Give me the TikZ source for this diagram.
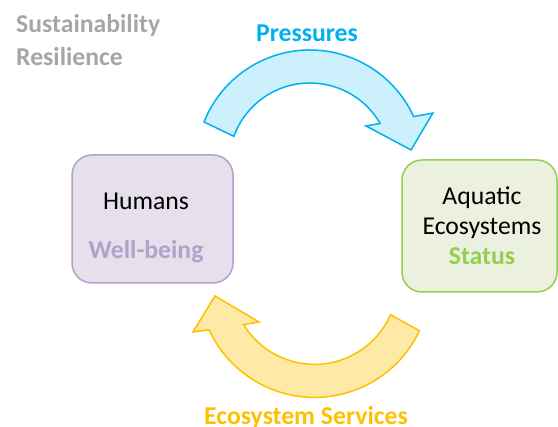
\documentclass[tikz,border=0pt]{standalone}
\usepackage{fontspec}
\setmainfont{Carlito}
\usetikzlibrary{calc}
\definecolor{cgray}{HTML}{A6A6A6}
\definecolor{ccyan}{HTML}{00B0F0}
\definecolor{ccyanfill}{HTML}{CCF0FC}
\definecolor{cgold}{HTML}{FFC000}
\definecolor{cgoldfill}{HTML}{FFE9A6}
\definecolor{cpurp}{HTML}{B3A2C7}
\definecolor{cpurpfill}{HTML}{E5E0EC}
\definecolor{cgreen}{HTML}{92D050}
\definecolor{cgreenfill}{HTML}{EBF1DE}
\begin{document}
\begin{tikzpicture}[x=1pt,y=1pt,
  txt/.style={inner sep=0pt,anchor=base,font=\fontsize{25.7}{30}\selectfont},
  btxt/.style={txt,font=\fontsize{25.7}{30}\selectfont\bfseries},
  box/.style={draw,line width=1.5pt,rounded corners=20pt},
  arr/.style={line width=1.5pt,line join=miter}]
\useasboundingbox (0,0) rectangle (558,427);
% labels top-left
\node[btxt,anchor=base west,text=cgray] (sus) at (16,394) {Sustainability};
\node[btxt,anchor=base west,text=cgray] (res) at (16,361) {Resilience};
% boxes
\draw[box,draw=cpurp,fill=cpurpfill] (72,144) rectangle (233,272);
\node[txt] (hum) at (146,217) {Humans};
\node[btxt,text=cpurp] (wb) at (146,168) {Well-being};
\draw[box,draw=cgreen,fill=cgreenfill] (402,135) rectangle (557,267);
\node[txt] (aq) at (482,222) {Aquatic};
\node[txt] (eco) at (482,192) {Ecosystems};
\node[btxt,text=cgreen] (st) at (482,162) {Status};
% upper arrow (Pressures)
\coordinate (cu) at (310,263);
\draw[arr,draw=ccyan,fill=ccyanfill]
  ($(cu)+(158.4:114)$) arc[start angle=158.4,end angle=24.6,radius=114]
  -- ($(cu)+(22.5:133)$) -- ($(cu)+(7.9:102)$) -- ($(cu)+(34.2:67.7)$)
  -- ($(cu)+(30:81)$) arc[start angle=30,end angle=160,radius=81] -- cycle;
\node[btxt,text=ccyan] (pr) at (307,385) {Pressures};
% lower arrow (Ecosystem Services)
\coordinate (cl) at (314.5,145.6);
\draw[arr,draw=cgold,fill=cgoldfill]
  ($(cl)+(-25.2:116)$) arc[start angle=-25.2,end angle=-155.3,radius=116]
  -- ($(cl)+(-157.4:131.6)$) -- ($(cl)+(-171.7:100.6)$) -- ($(cl)+(-143.8:68.8)$)
  -- ($(cl)+(-148.6:83)$) arc[start angle=-148.6,end angle=-23.7,radius=83] -- cycle;
\node[btxt,text=cgold] (es) at (306,2.5) {Ecosystem Services};
\end{tikzpicture}
\end{document}
